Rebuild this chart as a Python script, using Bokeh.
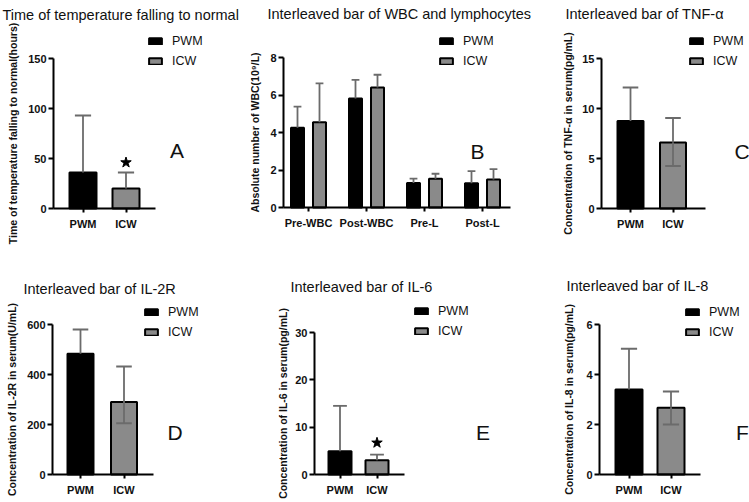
import math
from bokeh.plotting import figure
from bokeh.models import Range1d, FixedTicker, Legend, LegendItem, Label
from bokeh.layouts import row, column
from bokeh.embed import file_html
from bokeh.resources import INLINE

NaN = float("nan")

# ---------------- data ----------------
groups = ["PWM", "ICW"]

a_title = "Time of temperature falling to normal"
a_ylabel = "Time of temperature falling to normal(hours)"
a_means = [36, 20]
a_upper = [93, 36]
a_lower = [NaN, NaN]
a_star = [NaN, 46]
a_yticks = [0, 50, 100, 150]

b_title = "Interleaved bar of WBC and lymphocytes"
b_ylabel = "Absolute number of WBC(10\u2079/L)"
b_categories = ["Pre-WBC", "Post-WBC", "Pre-L", "Post-L"]
b_pwm = [4.25, 5.82, 1.31, 1.30]
b_pwm_upper = [5.38, 6.81, 1.54, 1.94]
b_icw = [4.55, 6.40, 1.54, 1.49]
b_icw_upper = [6.62, 7.08, 1.80, 2.05]
b_yticks = [0, 2, 4, 6, 8]

c_title = "Interleaved bar of TNF-\u03b1"
c_ylabel = "Concentration of TNF-\u03b1 in serum(pg/mL)"
c_means = [8.75, 6.6]
c_upper = [12.1, 9.05]
c_lower = [NaN, 4.25]
c_star = [NaN, NaN]
c_yticks = [0, 5, 10, 15]

d_title = "Interleaved bar of IL-2R"
d_ylabel = "Concentration of IL-2R in serum(U/mL)"
d_means = [483, 290]
d_upper = [580, 432]
d_lower = [NaN, 205]
d_star = [NaN, NaN]
d_yticks = [0, 200, 400, 600]

e_title = "Interleaved bar of IL-6"
e_ylabel = "Concentration of IL-6 in serum(pg/mL)"
e_means = [4.9, 3.0]
e_upper = [14.5, 4.2]
e_lower = [NaN, NaN]
e_star = [NaN, 6.7]
e_yticks = [0, 10, 20, 30]

f_title = "Interleaved bar of IL-8"
f_ylabel = "Concentration of IL-8 in serum(pg/mL)"
f_means = [3.4, 2.67]
f_upper = [5.03, 3.32]
f_lower = [NaN, 2.0]
f_star = [NaN, NaN]
f_yticks = [0, 2, 4, 6]

panel_letters = ["A", "B", "C", "D", "E", "F"]

# ---------------- style / layout (pixels) ----------------
FONT = "Liberation Sans"
PWM_FILL = "#000000"
ICW_FILL = "#8a8a8a"
ERR_COLOR = "#6b6b6b"
TXT = "#111111"

# figure box: x0, y0, w, h ; geometry: first category centre, spacing, y of zero, y of top tick,
# x of y-axis, x of x-axis end, bar width ; texts: title (x, baseline), letter (cx, baseline),
# legend (swatch left, first row centre), y-label standoff
LAY = {
    "A": dict(box=(0, 0, 250, 250), cat0=82.5, sp=43, zero=208, top=58, ax=53, axend=155, bar=27,
              title=(2, 14), letter=(176.5, 150), legend=(147, 41), lstand=6),
    "B": dict(box=(250, 0, 290, 250), cat0=308, sp=58, zero=207, top=57, ax=283, axend=510, bar=13,
              title=(267, 13.5), letter=(477, 151), legend=(438, 41), lstand=6),
    "C": dict(box=(540, 0, 209, 250), cat0=630, sp=42.5, zero=208, top=58, ax=601, axend=705, bar=26,
              title=(565, 13), letter=(741.5, 151), legend=(688, 41), lstand=5),
    "D": dict(box=(0, 250, 250, 252), cat0=80, sp=43.5, zero=474, top=324, ax=52, axend=153, bar=26,
              title=(23, 288), letter=(174.5, 432), legend=(143, 312), lstand=6),
    "E": dict(box=(250, 250, 290, 252), cat0=339.5, sp=37, zero=474, top=332, ax=314, axend=404, bar=23,
              title=(290, 286), letter=(482.5, 432), legend=(413, 311), lstand=3),
    "F": dict(box=(540, 250, 209, 252), cat0=628.5, sp=42, zero=474, top=324, ax=599, axend=700, bar=27,
              title=(566, 285), letter=(742, 432), legend=(684, 312), lstand=8),
}


class Panel:
    def __init__(self, key, xticks, xlabels, yticks, ylabel):
        L = LAY[key]
        self.L = L
        x0, y0, W, H = L["box"]
        self.x0, self.y0, self.W, self.H = x0, y0, W, H
        c0 = L["cat0"] - x0
        sp = L["sp"]
        self.sp = sp
        z = L["zero"] - y0
        t = L["top"] - y0
        ymax = yticks[-1]
        k = (z - t) / ymax
        xr = Range1d(-c0 / sp, (W - c0) / sp)
        yr = Range1d(-(H - z) / k, z / k)
        p = figure(width=W, height=H, x_range=xr, y_range=yr, output_backend="svg",
                   toolbar_location=None, title=None, min_border=0)
        p.outline_line_color = None
        p.grid.visible = False
        p.background_fill_color = "white"
        xa = p.xaxis[0]
        ya = p.yaxis[0]
        ax_data = (L["ax"] - L["cat0"]) / sp
        xa.fixed_location = 0
        xa.bounds = (ax_data, (L["axend"] - L["cat0"]) / sp)
        ya.fixed_location = ax_data
        ya.bounds = (0, ymax)
        xa.ticker = FixedTicker(ticks=xticks)
        xa.major_label_overrides = {t_: l for t_, l in zip(xticks, xlabels)}
        ya.ticker = FixedTicker(ticks=yticks)
        for a in (xa, ya):
            a.axis_line_width = 2
            a.axis_line_color = "black"
            a.major_tick_line_width = 2
            a.major_tick_line_color = "black"
            a.minor_tick_line_color = None
            a.major_tick_in = 0
            a.major_label_text_font = FONT
            a.major_label_text_font_style = "bold"
            a.major_label_text_font_size = "11px"
            a.major_label_text_color = TXT
        xa.major_tick_out = 4
        xa.major_label_standoff = 5
        ya.major_tick_out = 5
        ya.major_label_standoff = 2
        ya.axis_label = ylabel
        ya.axis_label_text_font = FONT
        ya.axis_label_text_font_style = "bold"
        ya.axis_label_text_font_size = "10.5px"
        ya.axis_label_text_color = TXT
        ya.axis_label_standoff = L["lstand"]
        self.p = p
        self.bw = L["bar"] / sp

    def sx(self, px):
        return px - self.x0

    def sy(self, py):
        return self.H - (py - self.y0)

    def bars(self, xs, tops, fill):
        return self.p.vbar(x=xs, top=tops, width=self.bw, bottom=0, fill_color=fill,
                           line_color="black", line_width=2)

    def errors(self, xs, vals, ups, lows):
        ch = self.bw * 0.3
        x0, y0, x1, y1 = [], [], [], []
        for x, v, u, lo in zip(xs, vals, ups, lows):
            if not math.isnan(u):
                x0 += [x, x - ch]; y0 += [v, u]; x1 += [x, x + ch]; y1 += [u, u]
            if not math.isnan(lo):
                x0 += [x, x - ch]; y0 += [lo, lo]; x1 += [x, x + ch]; y1 += [v, lo]
        self.p.segment(x0=x0, y0=y0, x1=x1, y1=y1, line_color=ERR_COLOR, line_width=1.8)

    def texts(self, title, letter):
        L = self.L
        self.p.add_layout(Label(x=self.sx(L["title"][0]), y=self.sy(L["title"][1]),
                                x_units="screen", y_units="screen", text=title,
                                text_font=FONT, text_font_size="14.5px", text_color=TXT,
                                text_baseline="alphabetic", text_align="left"))
        self.p.add_layout(Label(x=self.sx(L["letter"][0]), y=self.sy(L["letter"][1]),
                                x_units="screen", y_units="screen", text=letter,
                                text_font=FONT, text_font_size="21px", text_color=TXT,
                                text_baseline="alphabetic", text_align="center"))

    def legend(self, r1, r2):
        gl, c = self.L["legend"]
        loc = (self.sx(gl), self.sy(c - 7 + 34))
        leg = Legend(items=[LegendItem(label=groups[0], renderers=[r1]),
                            LegendItem(label=groups[1], renderers=[r2])],
                     location=loc, orientation="vertical",
                     glyph_width=16, glyph_height=8, label_height=14, spacing=6,
                     label_standoff=9, padding=0, margin=0,
                     border_line_color=None, background_fill_alpha=0,
                     label_text_font=FONT, label_text_font_size="12.5px",
                     label_text_color=TXT)
        self.p.add_layout(leg)


def two_bar(key, title, ylabel, means, upper, lower, star, yticks, letter):
    xs = list(range(len(groups)))
    P = Panel(key, xs, groups, yticks, ylabel)
    r1 = P.bars([xs[0]], [means[0]], PWM_FILL)
    r2 = P.bars([xs[1]], [means[1]], ICW_FILL)
    P.errors(xs, means, upper, lower)
    sxs = [x for x, s in zip(xs, star) if not math.isnan(s)]
    sys_ = [s for s in star if not math.isnan(s)]
    if sxs:
        P.p.scatter(x=sxs, y=sys_, marker="star", size=11, fill_color="black", line_color="black")
    P.texts(title, letter)
    P.legend(r1, r2)
    return P.p


pA = two_bar("A", a_title, a_ylabel, a_means, a_upper, a_lower, a_star, a_yticks, panel_letters[0])

bx = list(range(len(b_categories)))
PB = Panel("B", bx, b_categories, b_yticks, b_ylabel)
off = 11 / LAY["B"]["sp"]
xp = [x - off for x in bx]
xi = [x + off for x in bx]
rb1 = PB.bars(xp, b_pwm, PWM_FILL)
rb2 = PB.bars(xi, b_icw, ICW_FILL)
PB.errors(xp, b_pwm, b_pwm_upper, [NaN] * len(bx))
PB.errors(xi, b_icw, b_icw_upper, [NaN] * len(bx))
PB.texts(b_title, panel_letters[1])
PB.legend(rb1, rb2)
pB = PB.p

pC = two_bar("C", c_title, c_ylabel, c_means, c_upper, c_lower, c_star, c_yticks, panel_letters[2])
pD = two_bar("D", d_title, d_ylabel, d_means, d_upper, d_lower, d_star, d_yticks, panel_letters[3])
pE = two_bar("E", e_title, e_ylabel, e_means, e_upper, e_lower, e_star, e_yticks, panel_letters[4])
pF = two_bar("F", f_title, f_ylabel, f_means, f_upper, f_lower, f_star, f_yticks, panel_letters[5])

layout = column(row(pA, pB, pC, spacing=0), row(pD, pE, pF, spacing=0), spacing=0)

open("out.html", "w").write(file_html(layout, INLINE))
